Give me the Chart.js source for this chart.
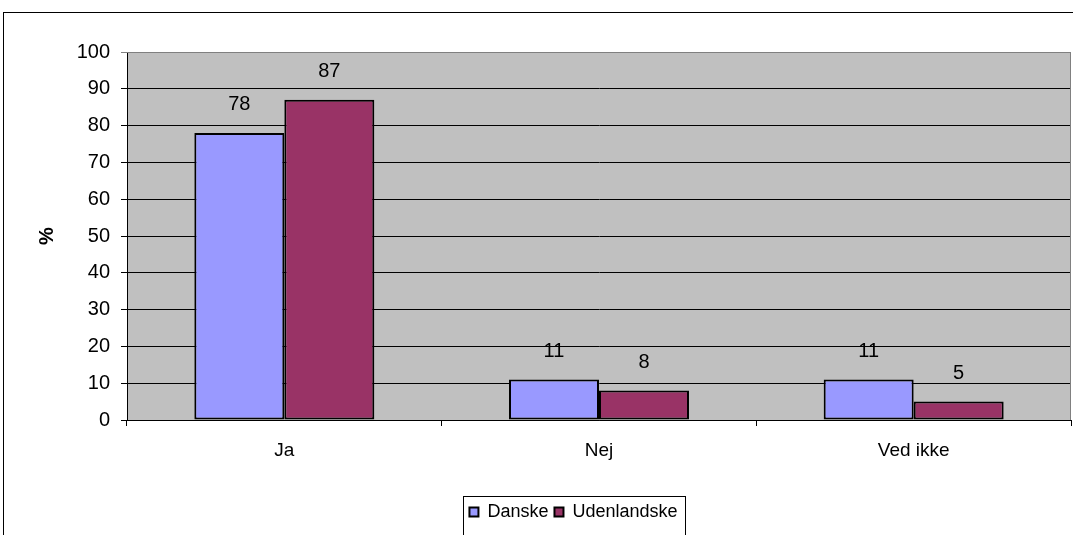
<!DOCTYPE html>
<html>
<head>
<meta charset="utf-8">
<script src="https://cdn.jsdelivr.net/npm/chart.js@4.4.0/dist/chart.umd.min.js"></script>
<style>
  html, body { margin: 0; padding: 0; background: #fff; }
  #wrap { width: 1073px; height: 535px; }
</style>
</head>
<body>
<div id="wrap"><canvas id="grafico" width="1073" height="535"></canvas></div>
<script>
const kategorier = ['Ja', 'Nej', 'Ved ikke'];
const danske = [78, 11, 11];
const udenlandske = [87, 8, 5];
const serieNavne = ['Danske', 'Udenlandske'];
const yMin = 0, yMax = 100, yStep = 10;

const FONT = "'Liberation Sans', Arial, sans-serif";
const FS = 20;      // tal (akse og etiketter)
const FS_KAT = 19;  // kategorier
const FS_LEG = 18;  // forklaring

// baggrund, ramme og etiketter
const tegnPlugin = {
  id: 'tegn',
  afterLayout(chart) {
    // Excel centrerer forklaringen i hele diagramrammen, som går ud over billedet
    chart.legend.left += 38;
    chart.legend.right += 38;
  },
  beforeDraw(chart) {
    const { ctx, chartArea: a } = chart;
    ctx.save();
    ctx.fillStyle = '#fff';
    ctx.fillRect(0, 0, chart.width, chart.height);
    ctx.fillStyle = '#c0c0c0';
    ctx.fillRect(a.left, a.top, a.right - a.left, a.bottom - a.top);
    ctx.strokeStyle = '#000';
    ctx.lineWidth = 1;
    ctx.strokeRect(3.5, 12.5, chart.width + 20, chart.height + 20);
    ctx.restore();
  },
  afterDatasetsDraw(chart) {
    const { ctx, chartArea: a } = chart;
    ctx.save();
    ctx.strokeStyle = '#808080';
    ctx.lineWidth = 1;
    ctx.beginPath();
    ctx.moveTo(a.left, a.top + 0.5);
    ctx.lineTo(a.right - 0.5, a.top + 0.5);
    ctx.lineTo(a.right - 0.5, a.bottom);
    ctx.stroke();
    ctx.fillStyle = '#000';
    ctx.font = FS + 'px ' + FONT;
    ctx.textAlign = 'center';
    ctx.textBaseline = 'middle';
    chart.data.datasets.forEach((ds, i) => {
      chart.getDatasetMeta(i).data.forEach((bar, j) => {
        ctx.fillText(String(ds.data[j]), bar.x, bar.y - 28);
      });
    });
    ctx.restore();
  },
  afterDraw(chart) {
    const lg = chart.legend;
    const pad = lg.options.labels.padding;
    const lw = lg.lineWidths[0];
    const start = (lg.left + pad + lg.right - lw) / 2;
    const end = start + lw - pad;
    const ctx = chart.ctx;
    ctx.save();
    ctx.strokeStyle = '#000';
    ctx.lineWidth = 1;
    const midY = lg.top + pad + FS_LEG * 1.2 / 2;
    ctx.strokeRect(Math.round(start - 6) + 0.5, Math.round(midY - 17.5) + 0.5,
      Math.round(end - start + 14), 60);
    ctx.restore();
  }
};

new Chart(document.getElementById('grafico'), {
  type: 'bar',
  data: {
    labels: kategorier,
    datasets: [{
      label: serieNavne[0],
      data: danske,
      backgroundColor: '#9999ff',
      borderColor: '#000',
      borderWidth: 2,
      borderSkipped: false,
      categoryPercentage: 0.572,
      barPercentage: 1
    }, {
      label: serieNavne[1],
      data: udenlandske,
      backgroundColor: '#993366',
      borderColor: '#000',
      borderWidth: 2,
      borderSkipped: false,
      categoryPercentage: 0.572,
      barPercentage: 1
    }]
  },
  options: {
    responsive: false,
    animation: false,
    devicePixelRatio: 1,
    layout: { padding: { top: 52, right: 2, left: 0, bottom: 4 } },
    plugins: {
      legend: {
        position: 'bottom',
        labels: {
          boxWidth: 9,
          boxHeight: 9,
          padding: 6,
          color: '#000',
          font: { family: FONT, size: FS_LEG }
        }
      },
      tooltip: { enabled: false }
    },
    scales: {
      x: {
        grid: {
          offset: true,
          drawOnChartArea: false,
          drawTicks: true,
          tickLength: 6,
          color: '#000'
        },
        border: { color: '#000', width: 1 },
        ticks: { color: '#000', padding: 13, font: { family: FONT, size: FS_KAT } },
        afterFit(scale) { scale.height = 77; }
      },
      y: {
        min: yMin,
        max: yMax,
        ticks: { stepSize: yStep, color: '#000', padding: 11, font: { family: FONT, size: FS } },
        grid: {
          color: c => (c.tick && c.tick.value === yMax ? '#808080' : '#000'),
          tickLength: 6,
          lineWidth: 1
        },
        border: { color: '#000', width: 1 },
        title: {
          display: true,
          text: '%',
          color: '#000',
          padding: { top: 35, bottom: 0 },
          font: { family: FONT, size: FS, weight: 'bold' }
        },
        afterFit(scale) { scale.width = 127; }
      }
    }
  },
  plugins: [tegnPlugin]
});
</script>
</body>
</html>
